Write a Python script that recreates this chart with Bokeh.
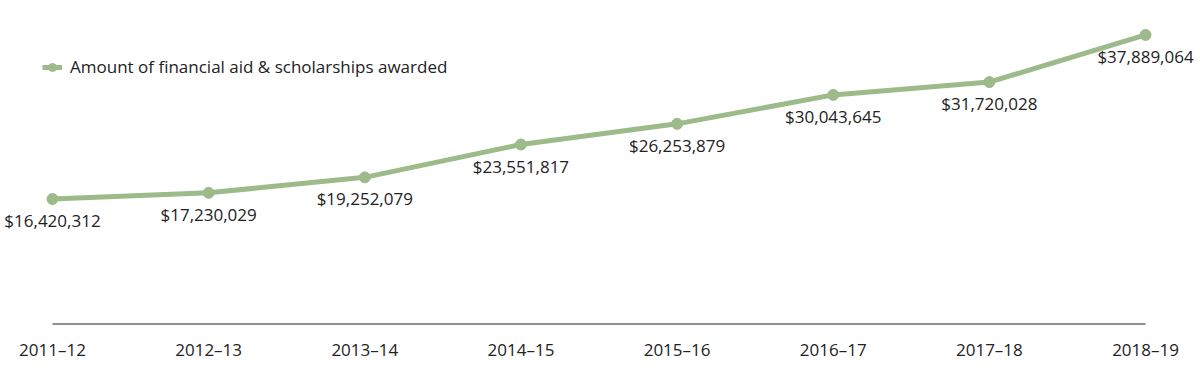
from bokeh.plotting import figure
from bokeh.models import ColumnDataSource, LabelSet, Range1d, FixedTicker, Legend, LegendItem
from bokeh.core.properties import value
from bokeh.embed import file_html
from bokeh.resources import INLINE

years = ["2011–12", "2012–13", "2013–14", "2014–15", "2015–16", "2016–17", "2017–18", "2018–19"]
amounts = [16420312, 17230029, 19252079, 23551817, 26253879, 30043645, 31720028, 37889064]
series_name = "Amount of financial aid & scholarships awarded"

FONT = "Open Sans"
GREEN = "#9dba8a"
TEXT = "#222222"

xs = list(range(len(years)))
src = ColumnDataSource(dict(x=xs, y=amounts, lbl=["${:,}".format(a) for a in amounts]))

p = figure(width=1200, height=372, output_backend="svg", toolbar_location=None,
           x_range=Range1d(-0.333, 7.352), y_range=Range1d(0, 40.3e6),
           min_border_left=0, min_border_right=0, min_border_top=16, min_border_bottom=48)
p.outline_line_color = None
p.grid.visible = False
p.yaxis.visible = False
p.background_fill_color = "white"

xa = p.xaxis[0]
xa.ticker = FixedTicker(ticks=xs)
xa.major_label_overrides = {i: y for i, y in enumerate(years)}
xa.axis_line_color = None
xa.major_tick_line_color = None
xa.minor_tick_line_color = None
xa.major_tick_out = 0
xa.major_tick_in = 0
xa.major_label_standoff = 13
xa.major_label_text_font = FONT
xa.major_label_text_font_size = "17px"
xa.major_label_text_color = TEXT

p.segment(x0=[xs[0]], y0=[0], x1=[xs[-1]], y1=[0], line_color="#222222", line_width=2)

ln = p.line("x", "y", source=src, line_color=GREEN, line_width=5)
sc = p.scatter("x", "y", source=src, size=11, fill_color=GREEN, line_color=GREEN)

labels = LabelSet(x="x", y="y", text="lbl", source=src, text_align="center", text_baseline="top",
                  y_offset=-10, text_font=value(FONT), text_font_size=value("17px"), text_color=value(TEXT))
p.add_layout(labels)

legend = Legend(items=[LegendItem(label=series_name, renderers=[ln, sc])], location=(42, 246),
                margin=0, padding=0, border_line_color=None, background_fill_alpha=0,
                label_text_font=FONT, label_text_font_size="17px", label_text_color=TEXT,
                glyph_width=20, label_standoff=8)
p.add_layout(legend)

open("out.html", "w").write(file_html(p, INLINE))
